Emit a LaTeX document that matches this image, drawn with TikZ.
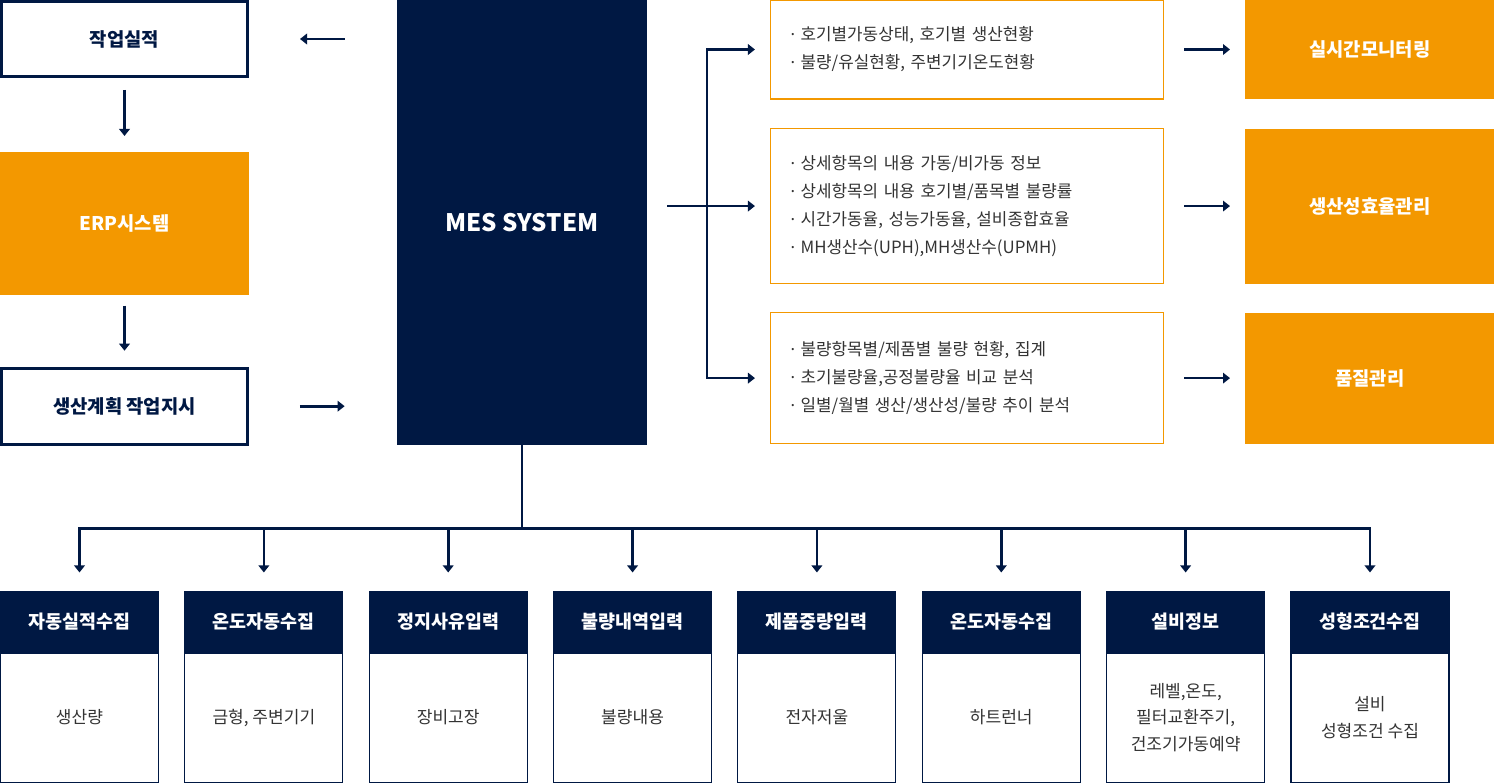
\documentclass[tikz,border=0pt]{standalone}
\usepackage{fontspec}
\setmainfont{Noto Sans CJK KR}
\newfontfamily\latinfont{Noto Sans}
\usepackage{xcolor}
\usepackage{tikz}
\usetikzlibrary{positioning, arrows.meta}
\definecolor{navy}{RGB}{0,24,67}
\definecolor{mesorange}{RGB}{243,152,0}
\definecolor{bodytext}{RGB}{51,51,51}
\newcommand{\bul}{{\latinfont ·}\ }

\begin{document}
\begin{tikzpicture}[
    outline/.style={draw=navy, line width=1.7pt, fill=white, minimum width=4.92cm,
                    font=\fontsize{10.7}{13}\selectfont\bfseries, text=navy},
    filled/.style={fill=mesorange, minimum width=4.98cm, inner sep=0pt,
                   font=\fontsize{10.7}{13}\selectfont\bfseries, text=white},
    mes/.style={fill=navy, minimum width=5cm, minimum height=8.9cm,
                font=\fontsize{13.7}{16}\selectfont\bfseries, text=white},
    info/.style={draw=mesorange, line width=0.6pt, text width=7.06cm, inner xsep=0.4cm,
                 align=left, font=\fontsize{9.6}{15.9}\selectfont, text=bodytext},
    colhead/.style={draw=navy, fill=navy, line width=0.6pt, minimum width=3.16cm,
                    minimum height=1.2cm, font=\fontsize{10.5}{12}\selectfont\bfseries, text=white},
    colbody/.style={draw=navy, line width=0.6pt, minimum width=3.16cm, minimum height=2.58cm,
                    align=center, font=\fontsize{9.7}{15.2}\selectfont, text=bodytext},
    arr/.style={-{Triangle[width=6pt, length=4pt]}, line width=1.5pt, draw=navy},
    link/.style={line width=1.5pt, draw=navy}
]
\useasboundingbox (0,0) rectangle (29.9,-15.64);

% ---- Left column ----
\node[outline, minimum height=1.5cm] (result) at (2.49,-0.78) {작업실적};
\node[filled, minimum height=2.86cm, below=1.48cm of result] (erp) {ERP시스템};
\node[outline, minimum height=1.52cm, below=1.42cm of erp] (order) {생산계획 작업지시};
\draw[arr] ([yshift=-0.24cm]result.south) -- ([yshift=0.32cm]erp.north);
\draw[arr] ([yshift=-0.2cm]erp.south) -- ([yshift=0.32cm]order.north);

% ---- MES ----
\node[mes] (mes) at (10.44,-4.45) {MES SYSTEM};
\draw[arr] ([xshift=-1.04cm]mes.west |- result) -- ([xshift=1.02cm]result.east);
\draw[arr] ([xshift=1.02cm]order.east) -- ([xshift=-1.04cm]mes.west |- order);

% ---- Right column ----
\node[info, minimum height=1.98cm] (info1) at (19.34,-0.99)
  {\bul 호기별가동상태, 호기별 생산현황\\\bul 불량/유실현황, 주변기기온도현황};
\node[info, minimum height=3.10cm, below=0.57cm of info1] (info2)
  {\bul 상세항목의 내용 가동/비가동 정보\\\bul 상세항목의 내용 호기별/품목별 불량률\\\bul 시간가동율, 성능가동율, 설비종합효율\\\bul MH생산수(UPH),MH생산수(UPMH)};
\node[info, minimum height=2.62cm, below=0.56cm of info2] (info3)
  {\bul 불량항목별/제품별 불량 현황, 집계\\\bul 초기불량율,공정불량율 비교 분석\\\bul 일별/월별 생산/생산성/불량 추이 분석};
\node[filled, minimum height=1.98cm, right=1.62cm of info1] (monitor) {실시간모니터링};
\node[filled, minimum height=3.10cm, right=1.62cm of info2] (effic)   {생산성효율관리};
\node[filled, minimum height=2.62cm, right=1.62cm of info3] (quality) {품질관리};
\draw[arr] ([xshift=0.4cm]info1.east) -- ([xshift=-0.3cm]monitor.west);
\draw[arr] ([xshift=0.4cm]info2.east) -- ([xshift=-0.3cm]effic.west);
\draw[arr] ([xshift=0.4cm]info3.east) -- ([xshift=-0.3cm]quality.west);

\coordinate (bus) at (14.14,0);
\draw[arr] ([xshift=0.4cm]mes.east |- info2) -- ([xshift=-0.3cm]info2.west);
\draw[arr] (bus |- info2) -- (bus |- info1) -- ([xshift=-0.3cm]info1.west);
\draw[arr] (bus |- info2) -- (bus |- info3) -- ([xshift=-0.3cm]info3.west);

% ---- Bottom row ----
\node[colhead] (c1h) at (1.59,-12.44) {자동실적수집};
\node[colhead, right=0.506cm of c1h] (c2h) {온도자동수집};
\node[colhead, right=0.506cm of c2h] (c3h) {정지사유입력};
\node[colhead, right=0.506cm of c3h] (c4h) {불량내역입력};
\node[colhead, right=0.506cm of c4h] (c5h) {제품중량입력};
\node[colhead, right=0.506cm of c5h] (c6h) {온도자동수집};
\node[colhead, right=0.506cm of c6h] (c7h) {설비정보};
\node[colhead, right=0.506cm of c7h] (c8h) {성형조건수집};
\node[colbody, below=0pt of c1h] (c1b) {생산량};
\node[colbody, below=0pt of c2h] (c2b) {금형, 주변기기};
\node[colbody, below=0pt of c3h] (c3b) {장비고장};
\node[colbody, below=0pt of c4h] (c4b) {불량내용};
\node[colbody, below=0pt of c5h] (c5b) {전자저울};
\node[colbody, below=0pt of c6h] (c6b) {하트런너};
\node[colbody, below=0pt of c7h] (c7b) {레벨,온도,\\필터교환주기,\\건조기가동예약};
\node[colbody, below=0pt of c8h] (c8b) {설비\\성형조건 수집};

\coordinate (hub) at ([yshift=-1.66cm]mes.south);
\draw[link] (mes.south) -- (hub);
\draw[arr] (hub) -- (hub -| c1h) -- ([yshift=0.38cm]c1h.north);
\draw[arr] (hub) -- (hub -| c8h) -- ([yshift=0.38cm]c8h.north);
\draw[arr] (hub -| c2h) -- ([yshift=0.38cm]c2h.north);
\draw[arr] (hub -| c3h) -- ([yshift=0.38cm]c3h.north);
\draw[arr] (hub -| c4h) -- ([yshift=0.38cm]c4h.north);
\draw[arr] (hub -| c5h) -- ([yshift=0.38cm]c5h.north);
\draw[arr] (hub -| c6h) -- ([yshift=0.38cm]c6h.north);
\draw[arr] (hub -| c7h) -- ([yshift=0.38cm]c7h.north);

\end{tikzpicture}
\end{document}
